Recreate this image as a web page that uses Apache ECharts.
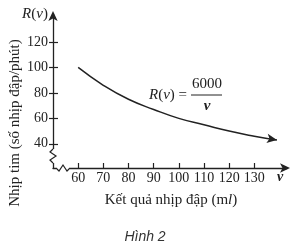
<!DOCTYPE html>
<html><head><meta charset="utf-8">
<script src="https://cdn.jsdelivr.net/npm/echarts@6/dist/echarts.min.js"></script>
<style>html,body{margin:0;padding:0;background:#fff}#c{width:294px;height:250px}</style>
</head><body><div id="c"></div>
<script>
// Data
const xTicks = [60, 70, 80, 90, 100, 110, 120, 130];
const yTicks = [40, 60, 80, 100, 120];
const volume = [60, 70, 80, 90, 100, 110, 120, 130, 139];
const heartRate = [100, 86, 75, 67, 60, 55, 50, 46, 43];

const serif = 'Liberation Serif';
const ink = '#222';
const chart = echarts.init(document.getElementById('c'), null, {renderer: 'canvas'});

const seriesData = volume.map((v, i) => {
  const item = {value: [v, heartRate[i]]};
  if (i === volume.length - 1) {
    item.symbol = 'arrow';
    item.symbolSize = [7, 10];
    item.symbolRotate = -99;
    item.itemStyle = {color: ink, borderWidth: 0};
  }
  return item;
});

const option = {
  animation: false,
  backgroundColor: '#fff',
  grid: {left: 53, right: 7, top: 14, bottom: 82, containLabel: false},
  xAxis: {
    type: 'value', min: 50, max: 143,
    axisLine: {show: true, lineStyle: {color: ink, width: 1.3}, symbol: ['none', 'arrow'], symbolSize: [7, 10], symbolOffset: [0, 3]},
    axisTick: {show: true, inside: true, length: 5, lineStyle: {color: ink, width: 1.2}, customValues: xTicks},
    axisLabel: {show: true, customValues: xTicks, fontFamily: serif, fontSize: 14, color: ink, margin: 3},
    splitLine: {show: false}
  },
  yAxis: [{
    type: 'value', min: 21, max: 142,
    axisLine: {show: true, lineStyle: {color: ink, width: 1.3}, symbol: ['none', 'arrow'], symbolSize: [7, 10], symbolOffset: [0, 3]},
    axisTick: {show: true, inside: true, length: 5, lineStyle: {color: ink, width: 1.2}, customValues: yTicks},
    axisLabel: {show: true, customValues: yTicks, fontFamily: serif, fontSize: 14, color: ink, margin: 5},
    splitLine: {show: false}
  }, {
    type: 'value', min: 21, max: 142, position: 'left',
    axisLine: {show: false},
    axisTick: {show: true, inside: false, length: 4, lineStyle: {color: ink, width: 1.2}, customValues: yTicks},
    axisLabel: {show: false},
    splitLine: {show: false}
  }],
  series: [{
    type: 'line', smooth: true, data: seriesData,
    symbol: 'none', showAllSymbol: true,
    lineStyle: {color: ink, width: 1.5},
    itemStyle: {color: ink}
  }]
};
chart.setOption(option);

// Axis-break zigzags and texts
const o = chart.convertToPixel({gridIndex: 0}, [50, 21]);
const ox = o[0], oy = o[1];
const yb = oy - 12; // y-axis break centre
const xb = ox + 10; // x-axis break centre
const it = {fontStyle: 'italic', fontFamily: serif, fontSize: 15, fill: ink};
chart.setOption({
  graphic: [
    {type: 'rect', shape: {x: ox - 2, y: yb - 7, width: 4, height: 14}, style: {fill: '#fff'}, z: 100},
    {type: 'polyline', shape: {points: [[ox, yb - 7], [ox - 3, yb - 4], [ox + 3, yb], [ox - 3, yb + 4], [ox, yb + 7]]}, style: {stroke: ink, lineWidth: 1.2, fill: null}, z: 101},
    {type: 'rect', shape: {x: xb - 7, y: oy - 2, width: 14, height: 4}, style: {fill: '#fff'}, z: 100},
    {type: 'polyline', shape: {points: [[xb - 7, oy], [xb - 4, oy + 3], [xb, oy - 3], [xb + 4, oy + 3], [xb + 7, oy]]}, style: {stroke: ink, lineWidth: 1.2, fill: null}, z: 101},
    {type: 'text', x: 35, y: 14, style: {text: '{i|R}({i|v})', rich: {i: it}, fontFamily: serif, fontSize: 15, fill: ink, align: 'center', verticalAlign: 'middle'}, z: 102},
    {type: 'text', x: 280, y: 177, style: {text: 'v', fontStyle: 'italic', fontWeight: 'bold', fontFamily: serif, fontSize: 14, fill: ink, align: 'center', verticalAlign: 'middle'}, z: 102},
    {type: 'text', x: 15, y: 123, rotation: Math.PI / 2, style: {text: 'Nhịp tim (số nhịp đập/phút)', fontFamily: serif, fontSize: 15, fill: ink, align: 'center', verticalAlign: 'middle'}, z: 102},
    {type: 'text', x: 171, y: 200, style: {text: 'Kết quả nhịp đập (m{i|l})', rich: {i: it}, fontFamily: serif, fontSize: 15, fill: ink, align: 'center', verticalAlign: 'middle'}, z: 102},
    {type: 'text', x: 145, y: 237, style: {text: 'Hình 2', fontStyle: 'italic', fontFamily: 'Liberation Sans', fontSize: 14, fill: '#333', align: 'center', verticalAlign: 'middle'}, z: 102},
    {type: 'text', x: 149, y: 95, style: {text: '{i|R}({i|v}) =', rich: {i: it}, fontFamily: serif, fontSize: 15, fill: ink, verticalAlign: 'middle'}, z: 102},
    {type: 'text', x: 207, y: 84, style: {text: '6000', fontFamily: serif, fontSize: 15, fill: ink, align: 'center', verticalAlign: 'middle'}, z: 102},
    {type: 'line', shape: {x1: 191, y1: 95, x2: 222, y2: 95}, style: {stroke: ink, lineWidth: 1}, z: 102},
    {type: 'text', x: 207, y: 106, style: {text: 'v', fontStyle: 'italic', fontWeight: 'bold', fontFamily: serif, fontSize: 15, fill: ink, align: 'center', verticalAlign: 'middle'}, z: 102}
  ]
});
</script></body></html>
